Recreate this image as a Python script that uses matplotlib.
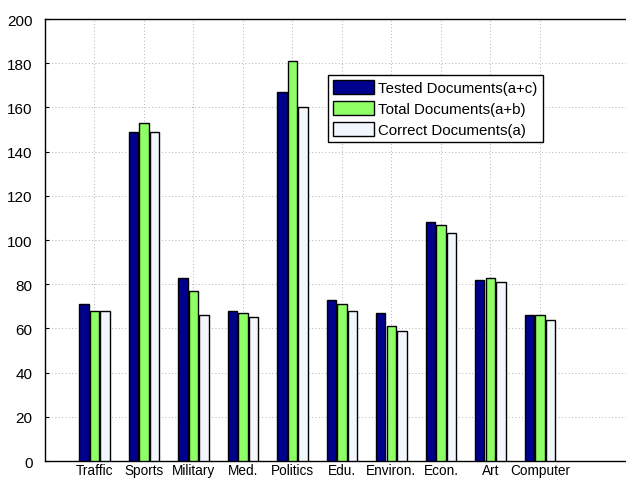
import matplotlib
matplotlib.use("Agg")
import matplotlib.pyplot as plt
import numpy as np

categories = ["Traffic", "Sports", "Military", "Med.", "Politics",
              "Edu.", "Environ.", "Econ.", "Art", "Computer"]
tested = [71, 149, 83, 68, 167, 73, 67, 108, 82, 66]
total = [68, 153, 77, 67, 181, 71, 61, 107, 83, 66]
correct = [68, 149, 66, 65, 160, 68, 59, 103, 81, 64]

series = [("Tested Documents(a+c)", tested, "#00008F"),
          ("Total Documents(a+b)", total, "#8FFF66"),
          ("Correct Documents(a)", correct, "#F2F6FD")]

plt.rcParams["font.family"] = ["Liberation Sans", "DejaVu Sans"]

fig = plt.figure(figsize=(6.26, 4.81), dpi=100)
ax = fig.add_axes([0.0719, 0.0395, 0.9281, 0.9189])

x = np.arange(1, len(categories) + 1)
offsets = [-0.215, 0.0, 0.215]
for (name, vals, color), off in zip(series, offsets):
    ax.bar(x + off, vals, width=0.19, color=color, edgecolor="black",
           linewidth=1.0, label=name, zorder=3)

ax.set_xlim(0, 11.74)
ax.set_ylim(0, 200)
ax.set_xticks(x)
ax.set_xticklabels(categories, fontsize=9.8)
ax.set_yticks(np.arange(0, 201, 20))
ax.tick_params(axis="y", labelsize=11, direction="in", length=3, pad=9)
ax.tick_params(axis="x", direction="in", length=3, pad=1.5)
ax.grid(True, linestyle=(0, (1, 3)), color="#999999", linewidth=0.6, zorder=0)
ax.set_axisbelow(True)
ax.spines["right"].set_visible(False)
for s in ["left", "bottom", "top"]:
    ax.spines[s].set_linewidth(1.0)

leg = ax.legend(loc="upper left", bbox_to_anchor=(0.487, 0.873),
                fontsize=10.8, frameon=True, fancybox=False, framealpha=1,
                edgecolor="black", handlelength=2.7, handleheight=1.0,
                labelspacing=0.4, handletextpad=0.3, borderpad=0.35,
                borderaxespad=0)
leg.get_frame().set_linewidth(1.0)

fig.savefig("out.png", dpi=100)
